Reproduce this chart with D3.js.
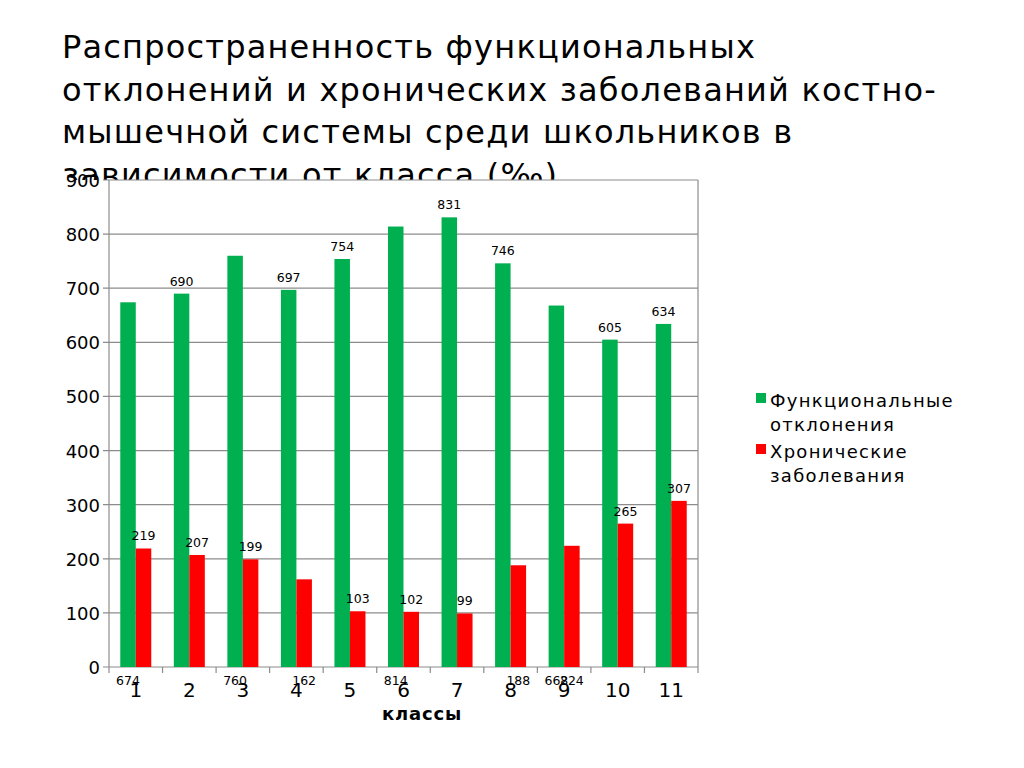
<!DOCTYPE html>
<html><head><meta charset="utf-8">
<script src="https://cdn.jsdelivr.net/npm/d3@7"></script>
<style>body{margin:0;background:#fff}svg{display:block}</style>
</head><body>
<svg id="c" width="1024" height="768"></svg>
<script>
const titleLines = ["Распространенность функциональных","отклонений и хронических заболеваний костно-","мышечной системы среди школьников в","зависимости от класса (‰)"];
const categories = ["1","2","3","4","5","6","7","8","9","10","11"];
const seriesNames = ["Функциональные отклонения","Хронические заболевания"];
const functional = [674,690,760,697,754,814,831,746,668,605,634];
const chronic = [219,207,199,162,103,102,99,188,224,265,307];
// whether each data label sits above its bar (true) or at the bottom (false)
const funcLabelTop = [false,true,false,true,true,false,true,true,false,true,true];
const chronLabelTop = [true,true,true,false,true,true,true,false,false,true,true];
const yTicks = [0,100,200,300,400,500,600,700,800,900];
const colors = ["#00b050","#ff0000"];

const svg = d3.select("#c");
const font = "DejaVu Sans, sans-serif";

// title
const title = svg.append("text").attr("x",62).attr("y",58)
  .attr("font-family",font).attr("font-size",32).attr("letter-spacing",1.2).attr("fill","#000");
titleLines.forEach((t,i)=>title.append("tspan").attr("x",62).attr("y",58+i*42.5).text(t));

// chart background covers the bottom of the title
svg.append("rect").attr("x",0).attr("y",180).attr("width",1024).attr("height",588).attr("fill","#fff");

const x0 = 109, x1 = 698, yTop = 180, yBot = 667;
const x = d3.scaleBand().domain(categories).range([x0,x1]).paddingInner(0).paddingOuter(0);
const y = d3.scaleLinear().domain([0,900]).range([yBot,yTop]);
const bw = 15.5;

// gridlines
svg.append("g").selectAll("line").data(yTicks).join("line")
  .attr("x1",x0-6).attr("x2",x1).attr("y1",d=>y(d)).attr("y2",d=>y(d))
  .attr("stroke","#8c8c8c").attr("stroke-width",1.2);
svg.append("line").attr("x1",x1).attr("x2",x1).attr("y1",yTop).attr("y2",yBot).attr("stroke","#8c8c8c").attr("stroke-width",1.2);
svg.append("line").attr("x1",x0).attr("x2",x0).attr("y1",yTop).attr("y2",yBot).attr("stroke","#8c8c8c").attr("stroke-width",1.2);
svg.append("g").selectAll("line").data(d3.range(categories.length+1)).join("line")
  .attr("x1",i=>x0+i*x.bandwidth()).attr("x2",i=>x0+i*x.bandwidth())
  .attr("y1",yBot).attr("y2",yBot+6).attr("stroke","#8c8c8c").attr("stroke-width",1.2);

// y tick labels
svg.append("g").selectAll("text").data(yTicks).join("text")
  .attr("x",100).attr("y",d=>y(d)+7).attr("text-anchor","end")
  .attr("font-family",font).attr("font-size",18).attr("fill","#000").text(d=>d);

// bars
const series = [functional, chronic];
series.forEach((vals,s)=>{
  svg.append("g").selectAll("rect").data(vals).join("rect")
    .attr("x",(d,i)=>x(categories[i])+x.bandwidth()/2 - bw + s*bw)
    .attr("y",d=>y(d)).attr("width",bw).attr("height",d=>yBot-y(d))
    .attr("fill",colors[s]);
});

// data labels
const tops = [funcLabelTop, chronLabelTop];
series.forEach((vals,s)=>{
  svg.append("g").selectAll("text").data(vals).join("text")
    .attr("x",(d,i)=>x(categories[i])+x.bandwidth()/2 - bw/2 + s*bw)
    .attr("y",(d,i)=>tops[s][i] ? y(d)-8 : yBot+18)
    .attr("text-anchor","middle").attr("font-family",font).attr("font-size",12.5).attr("fill","#000")
    .text(d=>d);
});

// category labels
svg.append("g").selectAll("text").data(categories).join("text")
  .attr("x",d=>x(d)+x.bandwidth()/2).attr("y",697).attr("text-anchor","middle")
  .attr("font-family",font).attr("font-size",20).attr("fill","#000").text(d=>d);

// x axis title
svg.append("text").attr("x",422).attr("y",720).attr("text-anchor","middle")
  .attr("font-family",font).attr("font-size",18).attr("letter-spacing",0.8).attr("font-weight","bold").text("классы");

// legend
const leg = svg.append("g");
const legLines = [["Функциональные","отклонения"],["Хронические","заболевания"]];
legLines.forEach((ls,i)=>{
  const by = 407 + i*51;
  leg.append("rect").attr("x",756).attr("y",by-14).attr("width",10).attr("height",10).attr("fill",colors[i]);
  ls.forEach((t,j)=>leg.append("text").attr("x",770).attr("y",by+j*24)
    .attr("font-family",font).attr("font-size",18).attr("letter-spacing",1.3).attr("fill","#000").text(t));
});
</script>
</body></html>
